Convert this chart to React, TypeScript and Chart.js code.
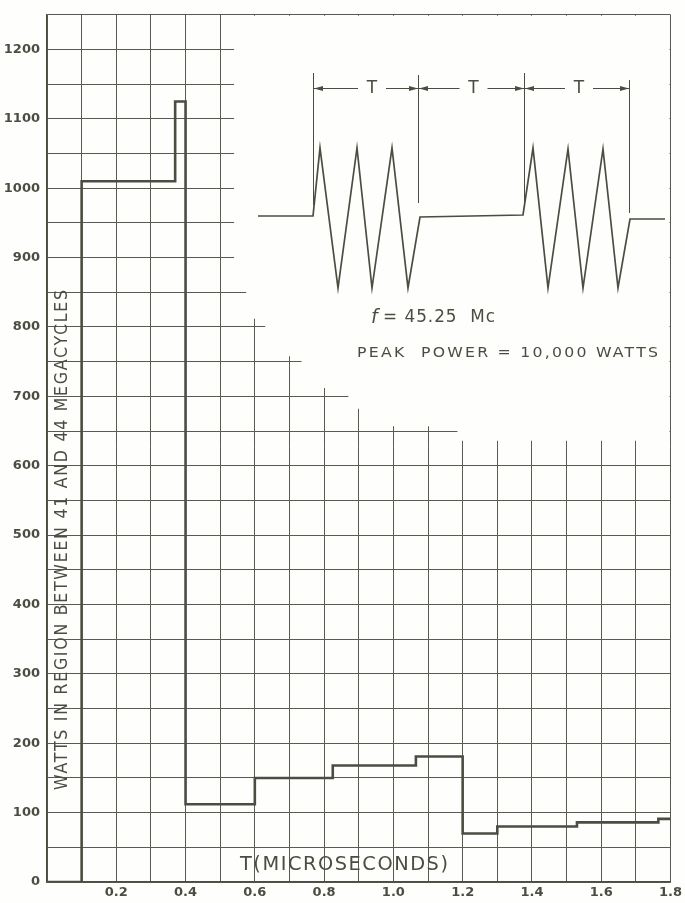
import React, { useEffect, useRef } from "react";
import { Chart, registerables } from "chart.js";
Chart.register(...registerables);

// Step curve: each point's value holds from its x until the next x
const stepX = [0, 0.1, 0.37, 0.4, 0.6, 0.825, 1.065, 1.2, 1.3, 1.53, 1.765, 1.8];
const stepY = [0, 1010, 1125, 112, 150, 168, 181, 70, 80, 86, 91, 91];

const xLabelTenths = [2, 4, 6, 8, 10, 12, 14, 16, 18];
const yLabelValues = [0, 100, 200, 300, 400, 500, 600, 700, 800, 900, 1000, 1100, 1200];

// Area (data units) where the grid is blank behind the inset sketch
const coverX = [0.54, 0.54, 0.575, 0.575, 0.63, 0.63, 0.735, 0.735, 0.87, 0.87, 0.95, 0.95, 1.185, 1.185, 1.8, 1.8];
const coverY = [1250, 875, 875, 812, 812, 758, 758, 712, 712, 682, 682, 657, 657, 636, 636, 1250];

// Inset waveform (page pixels)
const waveX = [258, 313, 320, 338, 357, 372, 392, 408, 420, 523, 533, 548, 568, 583, 603, 618, 630, 665];
const waveY = [216, 216, 148, 288, 148, 288, 148, 288, 217, 215, 148, 288, 149, 288, 149, 288, 219, 219];
const markerX = [313, 418, 524, 629];
const markerTop = [73, 75, 73, 80];
const markerBottom = [205, 203, 205, 213];

const INK = "#4c4c42";
const GRID = "#5a5a50";
const BG = "#fefefc";
const FONT = '"DejaVu Sans", sans-serif';

// draw text squeezed/stretched horizontally to a given width
function fitText(ctx: CanvasRenderingContext2D, text: string, x: number, y: number, width: number, spacing: number) {
  (ctx as any).letterSpacing = spacing + "px";
  const w = ctx.measureText(text).width - spacing;
  ctx.save();
  ctx.translate(x, y);
  ctx.scale(width / w, 1);
  ctx.textAlign = "left";
  ctx.fillText(text, 0, 0);
  ctx.restore();
  (ctx as any).letterSpacing = "0px";
}

function arrowHead(ctx: CanvasRenderingContext2D, x: number, y: number, dir: number) {
  ctx.beginPath();
  ctx.moveTo(x, y);
  ctx.lineTo(x - dir * 9, y - 2.5);
  ctx.lineTo(x - dir * 9, y + 2.5);
  ctx.closePath();
  ctx.fill();
}

const insetPlugin = {
  id: "inset",
  beforeDraw(chart: any) {
    const ctx = chart.ctx;
    ctx.save();
    ctx.fillStyle = BG;
    ctx.fillRect(0, 0, chart.width, chart.height);
    ctx.restore();
  },
  beforeDatasetsDraw(chart: any) {
    const ctx: CanvasRenderingContext2D = chart.ctx;
    const xs = chart.scales.x;
    const ys = chart.scales.y;
    const ca = chart.chartArea;
    ctx.save();
    // blank the grid behind the sketch
    ctx.fillStyle = BG;
    ctx.beginPath();
    coverX.forEach((v, i) => {
      const px = Math.min(xs.getPixelForValue(v), ca.right - 1);
      const py = Math.max(ys.getPixelForValue(coverY[i]), ca.top + 1);
      if (i === 0) ctx.moveTo(px, py);
      else ctx.lineTo(px, py);
    });
    ctx.closePath();
    ctx.fill();

    // waveform
    ctx.strokeStyle = INK;
    ctx.lineWidth = 1.7;
    ctx.lineJoin = "miter";
    ctx.beginPath();
    waveX.forEach((x, i) => (i === 0 ? ctx.moveTo(x, waveY[i]) : ctx.lineTo(x, waveY[i])));
    ctx.stroke();

    // marker lines
    ctx.lineWidth = 1;
    markerX.forEach((x, i) => {
      ctx.beginPath();
      ctx.moveTo(x + 0.5, markerTop[i]);
      ctx.lineTo(x + 0.5, markerBottom[i]);
      ctx.stroke();
    });

    // dimension arrows with T labels
    const dimY = 88;
    ctx.fillStyle = INK;
    ctx.font = `17px ${FONT}`;
    ctx.textAlign = "center";
    ctx.textBaseline = "middle";
    for (let i = 0; i < 3; i++) {
      const a = markerX[i] + 1;
      const b = markerX[i + 1];
      const mid = (a + b) / 2 + (i === 0 ? 6 : 2);
      ctx.beginPath();
      ctx.moveTo(a, dimY + 0.5);
      ctx.lineTo(mid - 14, dimY + 0.5);
      ctx.moveTo(mid + 14, dimY + 0.5);
      ctx.lineTo(b, dimY + 0.5);
      ctx.stroke();
      arrowHead(ctx, a, dimY + 0.5, -1);
      arrowHead(ctx, b, dimY + 0.5, 1);
      ctx.fillText("T", mid, dimY + 1);
    }

    // inset texts
    ctx.textBaseline = "middle";
    ctx.textAlign = "left";
    ctx.font = `italic 19px ${FONT}`;
    ctx.fillText("f", 371, 318);
    ctx.font = `17px ${FONT}`;
    fitText(ctx, "= 45.25  Mc", 383, 318, 112, 1);
    ctx.font = `14px ${FONT}`;
    fitText(ctx, "PEAK  POWER = 10,000 WATTS", 357, 353, 301, 2);

    // axis titles drawn inside the plot
    ctx.font = `19px ${FONT}`;
    fitText(ctx, "T(MICROSECONDS)", 240, 865, 208, 1.5);

    ctx.translate(62, 790);
    ctx.rotate(-Math.PI / 2);
    ctx.fillStyle = INK;
    ctx.font = `18px ${FONT}`;
    fitText(ctx, "WATTS IN REGION BETWEEN 41 AND 44 MEGACYCLES", 0, 0, 500, 2);
    ctx.restore();
  },
};

export default function App() {
  const ref = useRef<HTMLCanvasElement | null>(null);
  useEffect(() => {
    document.body.style.margin = "0";
    const canvas = ref.current!;
    const chart = new Chart(canvas, {
      type: "line",
      data: {
        datasets: [
          {
            data: stepX.map((x, i) => ({ x, y: stepY[i] })),
            stepped: "before",
            borderColor: INK,
            borderWidth: 2.6,
            pointRadius: 0,
            fill: false,
          },
        ],
      },
      options: {
        animation: false,
        responsive: false,
        devicePixelRatio: 1,
        layout: { padding: { left: 0, top: 5, right: 8, bottom: 0 } },
        plugins: { legend: { display: false }, tooltip: { enabled: false } },
        scales: {
          x: {
            type: "linear",
            min: 0,
            max: 1.8,
            afterFit: (s: any) => {
              s.height = 21;
            },
            ticks: {
              stepSize: 0.1,
              autoSkip: false,
              maxRotation: 0,
              padding: 3,
              color: INK,
              font: { family: FONT, size: 13, weight: "bold" },
              callback: (v: any) => {
                const t = Math.round(Number(v) * 10);
                return xLabelTenths.includes(t) ? (t / 10).toFixed(1) : "";
              },
            },
            grid: { color: GRID, lineWidth: 1, drawTicks: false },
            border: { color: INK, width: 1.5 },
          },
          y: {
            type: "linear",
            min: 0,
            max: 1250,
            afterFit: (s: any) => {
              s.width = 47;
            },
            ticks: {
              stepSize: 50,
              autoSkip: false,
              padding: 7,
              color: INK,
              font: { family: FONT, size: 13, weight: "bold" },
              callback: (v: any) => (yLabelValues.includes(Number(v)) ? String(v) : ""),
            },
            grid: { color: GRID, lineWidth: 1, drawTicks: false },
            border: { color: INK, width: 1.5 },
          },
        },
      },
      plugins: [insetPlugin],
    });
    return () => chart.destroy();
  }, []);
  return (
    <div style={{ position: "absolute", left: 0, top: 0, width: 685, height: 903 }}>
      <canvas ref={ref} width={685} height={903} style={{ display: "block" }} />
    </div>
  );
}
